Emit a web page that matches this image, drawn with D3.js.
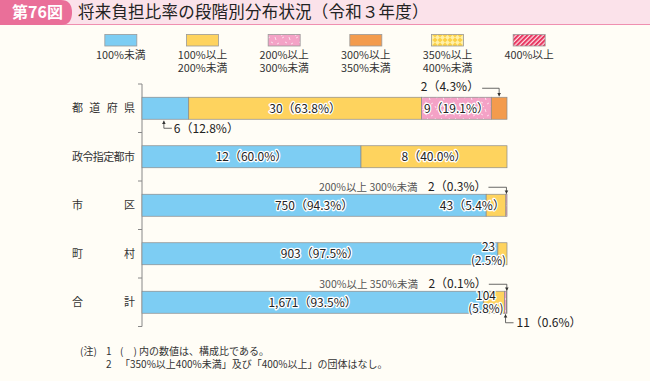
<!DOCTYPE html>
<html><head><meta charset="utf-8">
<script src="https://cdn.jsdelivr.net/npm/d3@7"></script>
<style>
html,body{margin:0;padding:0;background:#fffdf6;}
svg{display:block;font-family:"Noto Sans CJK JP","Noto Sans",sans-serif;}
</style></head><body>
<svg id="c" width="650" height="381"></svg>
<script>
// ---------- data ----------
const figNo = "第76図";
const title = "将来負担比率の段階別分布状況（令和３年度）";
const categories = ["都道府県", "政令指定都市", "市区", "町村", "合計"];
const bands = ["100%未満", "100%以上200%未満", "200%以上300%未満", "300%以上350%未満", "350%以上400%未満", "400%以上"];
const legendLines = [["100%未満"], ["100%以上", "200%未満"], ["200%以上", "300%未満"], ["300%以上", "350%未満"], ["350%以上", "400%未満"], ["400%以上"]];
// counts per band, by category
const cntUnder100 = [6, 12, 750, 903, 1671];
const cnt100to200 = [30, 8, 43, 23, 104];
const cnt200to300 = [9, 0, 2, 0, 11];
const cnt300to350 = [2, 0, 0, 0, 2];
const cnt350to400 = [0, 0, 0, 0, 0];
const cntOver400 = [0, 0, 0, 0, 0];
// composition ratios (%)
const pctUnder100 = [12.8, 60.0, 94.3, 97.5, 93.5];
const pct100to200 = [63.8, 40.0, 5.4, 2.5, 5.8];
const pct200to300 = [19.1, 0, 0.3, 0, 0.6];
const pct300to350 = [4.3, 0, 0, 0, 0.1];
const pct350to400 = [0, 0, 0, 0, 0];
const pctOver400 = [0, 0, 0, 0, 0];
const notes = [
  ["(注)", "1", "(　) 内の数値は、構成比である。"],
  ["", "2", "「350%以上400%未満」及び「400%以上」の団体はなし。"]
];

const counts = [cntUnder100, cnt100to200, cnt200to300, cnt300to350, cnt350to400, cntOver400];
const pcts = [pctUnder100, pct100to200, pct200to300, pct300to350, pct350to400, pctOver400];

// ---------- setup ----------
const svg = d3.select("#c");
const W = 650, H = 381;
svg.append("rect").attr("width", W).attr("height", H).attr("fill", "#fffdf6");

const defs = svg.append("defs");
// pink speckle
const pp = defs.append("pattern").attr("id", "pPink").attr("patternUnits", "userSpaceOnUse").attr("width", 14).attr("height", 12);
pp.append("rect").attr("width", 14).attr("height", 12).attr("fill", "#f4a2c6");
[[2,2,4,1],[9,1,10,4],[5,6,7,7],[11,8,13,7],[1,10,2,12],[7,10,8,11]].forEach(s =>
  pp.append("line").attr("x1", s[0]).attr("y1", s[1]).attr("x2", s[2]).attr("y2", s[3]).attr("stroke", "#fff").attr("stroke-width", 0.8).attr("opacity", 0.8));
// yellow cross hatch
const pc = defs.append("pattern").attr("id", "pCross").attr("patternUnits", "userSpaceOnUse").attr("width", 5).attr("height", 5);
pc.append("rect").attr("width", 5).attr("height", 5).attr("fill", "#fcd046");
pc.append("path").attr("d", "M0,2.5 L2.5,0 L5,2.5 L2.5,5 Z").attr("fill", "#fff0a8");
// red stripes
const ps = defs.append("pattern").attr("id", "pStripe").attr("patternUnits", "userSpaceOnUse").attr("width", 3.2).attr("height", 3.2).attr("patternTransform", "rotate(45)");
ps.append("rect").attr("width", 3.2).attr("height", 3.2).attr("fill", "#fde0e6");
ps.append("rect").attr("width", 2).attr("height", 3.2).attr("fill", "#e8345e");

const fills = ["#7dcdf3", "#fed35e", "url(#pPink)", "#f39b4d", "url(#pCross)", "url(#pStripe)"];

// ---------- title ----------
svg.append("rect").attr("x", 0).attr("y", 0).attr("width", W).attr("height", 24).attr("fill", "#fbe2ea");
svg.append("line").attr("x1", 0).attr("x2", W).attr("y1", 24.5).attr("y2", 24.5).attr("stroke", "#ef8fb0").attr("stroke-width", 1);
svg.append("path").attr("d", "M0,0 H61 Q72,0 72,12.5 Q72,25 61,25 H0 Z").attr("fill", "#ea6f99");
svg.append("text").attr("x", 12).attr("y", 18).attr("font-size", 16).attr("font-weight", "bold").attr("fill", "#fff").text(figNo);
svg.append("text").attr("x", 78).attr("y", 18).attr("font-size", 16.5).attr("letter-spacing", 0.2).attr("fill", "#222").text(title);

// ---------- legend ----------
const lx = d3.scaleBand().domain(bands).range([80, 570]);
const lg = svg.append("g");
bands.forEach((b, i) => {
  const cx = lx(b) + lx.bandwidth() / 2;
  lg.append("rect").attr("x", cx - 16).attr("y", 34.5).attr("width", 32).attr("height", 11.5)
    .attr("fill", fills[i]).attr("stroke", "#9a9a9a").attr("stroke-width", 0.8);
  legendLines[i].forEach((t, j) => {
    lg.append("text").attr("x", cx).attr("y", 59 + j * 12.5).attr("text-anchor", "middle")
      .attr("font-size", 10.8).attr("fill", "#333").text(t);
  });
});

// ---------- scales ----------
const x = d3.scaleLinear().domain([0, 100]).range([142, 507]);
const y = d3.scaleBand().domain(categories).range([84, 326.5]);
const barH = 22;
const barTop = c => y(c) + (y.bandwidth() - barH) / 2;
const barMid = c => y(c) + y.bandwidth() / 2;

// axis
const ag = svg.append("g");
ag.append("line").attr("x1", x(0)).attr("x2", x(0)).attr("y1", y.range()[0]).attr("y2", y.range()[1]).attr("stroke", "#888").attr("stroke-width", 1);
const bounds = categories.map(c => y(c)).concat([y.range()[1]]);
bounds.forEach(b => ag.append("line").attr("x1", x(0) - 4).attr("x2", x(0)).attr("y1", b).attr("y2", b).attr("stroke", "#888").attr("stroke-width", 1));

// category labels (justified)
categories.forEach(c => {
  svg.append("text").attr("x", 72).attr("y", barMid(c) + 4).attr("font-size", 11).attr("fill", "#333")
    .attr("textLength", 63).attr("lengthAdjust", "spacing").text(c);
});

// ---------- bars ----------
const rows = categories.map((c, i) => {
  const o = { cat: c };
  bands.forEach((b, k) => { o[b] = pcts[k][i]; });
  return o;
});
const stack = d3.stack().keys(bands)(rows);
const bg = svg.append("g");
stack.forEach((layer, k) => {
  layer.forEach((d, i) => {
    if (d[1] - d[0] <= 0) return;
    bg.append("rect").attr("x", x(d[0])).attr("y", barTop(categories[i]))
      .attr("width", x(d[1]) - x(d[0])).attr("height", barH)
      .attr("fill", fills[k]).attr("stroke", "#8a8a8a").attr("stroke-width", 0.7);
  });
});

// ---------- labels ----------
const fmtN = d3.format(",");
const fmtP = d3.format(".1f");
const lab = (k, i) => fmtN(counts[k][i]) + "（" + fmtP(pcts[k][i]) + "%）";
const tg = svg.append("g");
function haloText(xp, yp, txt, anchor, size) {
  return tg.append("text").attr("x", xp).attr("y", yp).attr("text-anchor", anchor || "middle")
    .attr("font-size", size || 12).attr("fill", "#222")
    .attr("stroke", "#fff").attr("stroke-width", 2.6).attr("stroke-linejoin", "round")
    .attr("paint-order", "stroke").text(txt);
}
function arrow(pts) {
  tg.append("path").attr("d", d3.line()(pts)).attr("fill", "none").attr("stroke", "#444").attr("stroke-width", 0.8);
  const [p0, p1] = [pts[pts.length - 2], pts[pts.length - 1]];
  const a = Math.atan2(p1[1] - p0[1], p1[0] - p0[0]);
  const s = 3.2, w = 1.8;
  const b = [p1[0] - s * Math.cos(a), p1[1] - s * Math.sin(a)];
  tg.append("path").attr("d", d3.line()([p1,
    [b[0] + w * Math.sin(a), b[1] - w * Math.cos(a)],
    [b[0] - w * Math.sin(a), b[1] + w * Math.cos(a)]]) + "Z").attr("fill", "#333");
}

// segment placement modes (layout only)
const modes = {
  "0|0": "below", "0|1": "in", "0|2": "in", "0|3": "above",
  "1|0": "in", "1|1": "in",
  "2|0": "in", "2|1": "right", "2|2": "aboveNamed",
  "3|0": "in", "3|1": "twoLine",
  "4|0": "in", "4|1": "twoLine", "4|2": "belowRight", "4|3": "aboveNamed"
};

stack.forEach((layer, k) => {
  layer.forEach((d, i) => {
    if (d[1] - d[0] <= 0) return;
    const c = categories[i];
    const mode = modes[i + "|" + k];
    const cx = (x(d[0]) + x(d[1])) / 2;
    const top = barTop(c), bot = top + barH, mid = barMid(c);
    if (mode === "in") {
      haloText(cx, mid + 4.5, lab(k, i));
    } else if (mode === "right") {
      haloText(x(d[1]) - 1, mid + 4.5, lab(k, i), "end");
    } else if (mode === "twoLine") {
      const tx = x(d[1]) - 18.5;
      haloText(tx, mid - 2.5, fmtN(counts[k][i]), "middle", 11.8);
      haloText(tx, mid + 11, "(" + fmtP(pcts[k][i]) + "%)", "middle", 11.8);
    } else if (mode === "above") {
      const ax = cx, ty = top - 7;
      tg.append("text").attr("x", ax - 20).attr("y", ty + 0.5).attr("text-anchor", "end")
        .attr("font-size", 12).attr("fill", "#222").text(lab(k, i));
      arrow([[ax - 17, ty - 2], [ax, ty - 2], [ax, top - 1]]);
    } else if (mode === "aboveNamed") {
      const ax = cx, ty = top - 3;
      const t = tg.append("text").attr("x", ax - 20).attr("y", ty).attr("text-anchor", "end");
      t.append("tspan").attr("font-size", 10.5).attr("fill", "#555").text(bands[k].replace("以上", "以上 ") + "　");
      t.append("tspan").attr("font-size", 12).attr("fill", "#222").text(lab(k, i));
      arrow([[ax - 18, ty - 4], [ax, ty - 4], [ax, top - 0.5]]);
    } else if (mode === "below") {
      const ax = cx - 1.5, ly = bot + 9;
      arrow([[ax + 8, ly], [ax, ly], [ax, bot + 1.5]]);
      tg.append("text").attr("x", ax + 10).attr("y", ly + 4.5).attr("font-size", 12).attr("fill", "#222").text(lab(k, i));
    } else if (mode === "belowRight") {
      const ax = cx, ly = bot + 9.5;
      arrow([[ax + 8, ly], [ax, ly], [ax, bot + 1]]);
      tg.append("text").attr("x", ax + 11).attr("y", ly + 4.5).attr("font-size", 12).attr("fill", "#222").text(lab(k, i));
    }
  });
});

// ---------- notes ----------
notes.forEach((n, j) => {
  const yy = 355 + j * 12.5;
  svg.append("text").attr("x", 80).attr("y", yy).attr("font-size", 10).attr("fill", "#333").text(n[0]);
  svg.append("text").attr("x", 106).attr("y", yy).attr("font-size", 10).attr("fill", "#333").text(n[1]);
  svg.append("text").attr("x", 120).attr("y", yy).attr("font-size", 10).attr("fill", "#333").text(n[2]);
});
</script>
</body></html>
